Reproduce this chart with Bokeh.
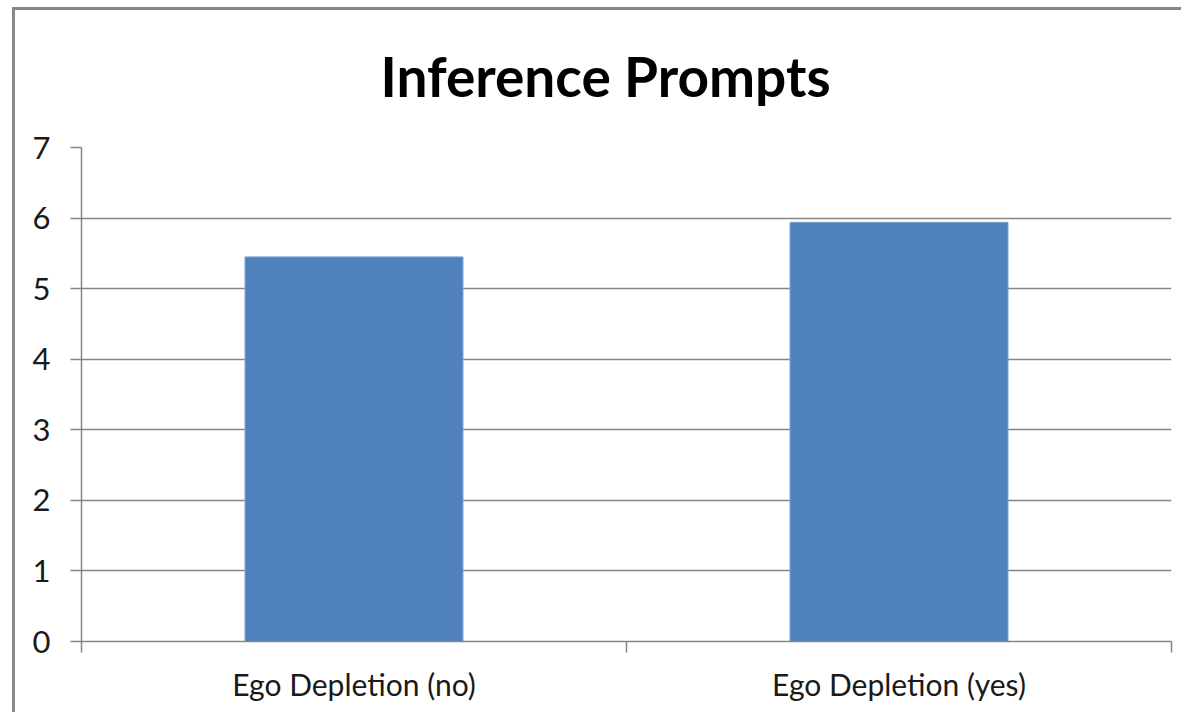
from bokeh.plotting import figure
from bokeh.models import FixedTicker, Range1d, Title
from bokeh.embed import file_html
from bokeh.resources import INLINE

categories = ["Ego Depletion (no)", "Ego Depletion (yes)"]
values = [5.45, 5.94]
y_ticks = [0, 1, 2, 3, 4, 5, 6, 7]
title_text = "Inference Prompts"

FONT = "Lato"
GRAY = "#868686"
BORDER = "#878787"

x_centers = [i + 0.5 for i in range(len(categories))]

bg = (f"linear-gradient({BORDER},{BORDER}) 12px 7px / 3px 100% no-repeat, "
      f"linear-gradient({BORDER},{BORDER}) 12px 7px / 100% 3px no-repeat, white")

p = figure(width=1181, height=712, output_backend="svg", toolbar_location=None,
           x_range=Range1d(0, len(categories)), y_range=Range1d(0, 7),
           min_border_left=81, min_border_right=10, min_border_top=147, min_border_bottom=71,
           styles={"background": bg})
p.outline_line_color = None
p.background_fill_color = "white"
p.border_fill_color = None

p.vbar(x=x_centers, top=values, width=0.4, bottom=0,
       fill_color="#4F81BD", line_color="#7FA3CF", line_width=1)

# x axis
p.xaxis.ticker = FixedTicker(ticks=x_centers, minor_ticks=list(range(len(categories) + 1)))
p.xaxis.major_label_overrides = {c: lab for c, lab in zip(x_centers, categories)}
p.xaxis.major_tick_line_color = None
p.xaxis.major_tick_out = 0
p.xaxis.major_tick_in = 0
p.xaxis.minor_tick_out = 11
p.xaxis.minor_tick_in = 0
p.xaxis.minor_tick_line_color = GRAY
p.xaxis.minor_tick_line_width = 1.5
p.xaxis.axis_line_color = GRAY
p.xaxis.axis_line_width = 1.5
p.xaxis.major_label_text_font = FONT
p.xaxis.major_label_text_font_size = "30px"
p.xaxis.major_label_text_color = "#1a1a1a"
p.xaxis.major_label_standoff = 13
p.xgrid.grid_line_color = None

# y axis
p.yaxis.ticker = FixedTicker(ticks=y_ticks)
p.yaxis.minor_tick_line_color = None
p.yaxis.major_tick_out = 11
p.yaxis.major_tick_in = 0
p.yaxis.major_tick_line_color = GRAY
p.yaxis.major_tick_line_width = 1.5
p.yaxis.axis_line_color = GRAY
p.yaxis.axis_line_width = 1.5
p.yaxis.major_label_text_font = FONT
p.yaxis.major_label_text_font_size = "31px"
p.yaxis.major_label_text_color = "#1a1a1a"
p.yaxis.major_label_standoff = 20
p.ygrid.grid_line_color = GRAY
p.ygrid.grid_line_width = 1.5

p.add_layout(Title(text=title_text, text_font=FONT, text_font_style="bold",
                   text_font_size="55px", text_color="black", align="left",
                   offset=299, standoff=77), "above")

open("out.html", "w").write(file_html(p, INLINE))
